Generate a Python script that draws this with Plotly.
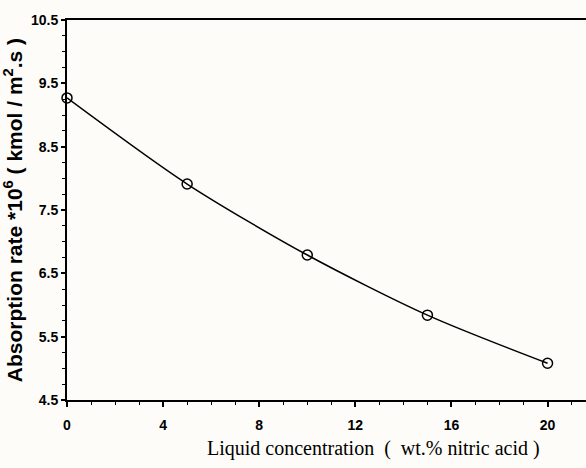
import plotly.graph_objects as go

concentration = [0, 5, 10, 15, 20]
absorption_rate = [9.27, 7.91, 6.79, 5.84, 5.08]

x_ticks = [0, 4, 8, 12, 16, 20]
y_ticks = [4.5, 5.5, 6.5, 7.5, 8.5, 9.5, 10.5]

x_title = "Liquid concentration  (  wt.% nitric acid )"
y_title = "Absorption rate *10<sup>6</sup> ( kmol / m<sup>2</sup>.s )"

fig = go.Figure()
fig.add_trace(go.Scatter(
    x=concentration, y=absorption_rate,
    mode="lines+markers",
    line=dict(color="black", width=1.5, shape="spline", smoothing=0.8),
    marker=dict(symbol="circle-open", size=10, color="black", line=dict(width=1.5)),
    showlegend=False,
    cliponaxis=False,
))

fig.add_annotation(
    text=x_title, xref="paper", yref="paper",
    x=0.5896, y=-0.128, xanchor="center", yanchor="middle",
    showarrow=False,
    font=dict(family="Liberation Serif, Times New Roman", size=20, color="black"),
)

fig.update_layout(
    width=586, height=468,
    margin=dict(l=67, r=0, t=20, b=68),
    paper_bgcolor="#fdfcf8",
    plot_bgcolor="#fdfcf8",
    font=dict(family="Liberation Sans, Arial", color="black"),
    xaxis=dict(
        range=[0, 21.6],
        tickvals=x_ticks,
        ticktext=[str(v) for v in x_ticks],
        ticks="outside", ticklen=5, tickwidth=1.5, tickcolor="black",
        ticklabelstandoff=6,
        minor=dict(dtick=1, tick0=0, ticks="outside", ticklen=3, tickwidth=1.2, tickcolor="black"),
        showline=True, linecolor="black", linewidth=2, mirror=True,
        showgrid=False, zeroline=False,
        tickfont=dict(family="Liberation Sans, Arial", size=14, color="black", weight="bold"),
    ),
    yaxis=dict(
        range=[4.5, 10.5],
        tickvals=y_ticks,
        ticktext=[f"{v:.1f}" for v in y_ticks],
        ticks="outside", ticklen=4, tickwidth=1.5, tickcolor="black",
        minor=dict(dtick=0.25, tick0=4.5, ticks="outside", ticklen=3, tickwidth=1.2, tickcolor="black"),
        showline=True, linecolor="black", linewidth=2, mirror=False,
        showgrid=False, zeroline=False,
        tickfont=dict(family="Liberation Sans, Arial", size=14, color="black", weight="bold"),
        title=dict(
            text=y_title,
            font=dict(family="Liberation Sans, Arial", size=21, color="black", weight="bold"),
            standoff=4,
        ),
    ),
)

fig.write_html("out.html")
